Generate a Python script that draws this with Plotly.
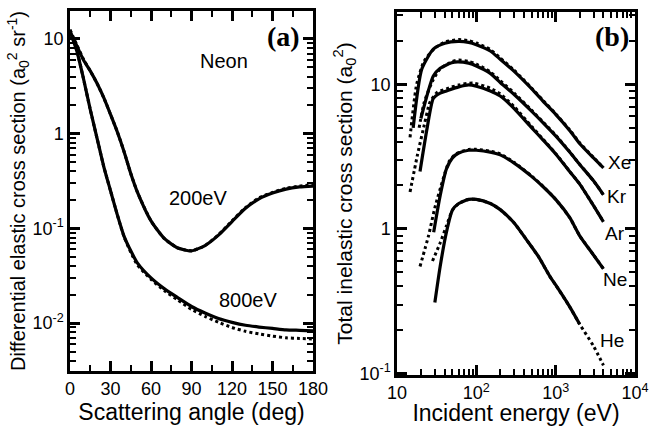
import plotly.graph_objects as go

# ---------------- Panel (a): Neon differential elastic cross section ----------------
angle = [0, 5, 10, 15, 20, 25, 30, 35, 40, 45, 50, 60, 70, 80, 90, 100, 110, 120, 130, 140, 150, 160, 170, 180]
dcs_200_solid = [12.0, 8.5, 6.0, 4.6, 3.4, 2.4, 1.6, 1.05, 0.65, 0.38, 0.24, 0.12, 0.078, 0.062, 0.058, 0.066, 0.085,
                 0.118, 0.163, 0.205, 0.236, 0.26, 0.274, 0.28]
dcs_200_dash = [12.5, 8.7, 6.1, 4.6, 3.4, 2.4, 1.6, 1.05, 0.65, 0.38, 0.24, 0.12, 0.078, 0.062, 0.058, 0.066, 0.086,
                0.12, 0.166, 0.21, 0.24, 0.265, 0.28, 0.29]
dcs_800_solid = [12.0, 7.5, 3.8, 1.8, 0.9, 0.45, 0.25, 0.14, 0.083, 0.058, 0.043, 0.030, 0.023, 0.0185, 0.0150, 0.0128,
                 0.0112, 0.0102, 0.0095, 0.0091, 0.0088, 0.0085, 0.0084, 0.0083]
dcs_800_dash = [12.5, 7.6, 3.8, 1.8, 0.9, 0.45, 0.25, 0.14, 0.082, 0.056, 0.041, 0.029, 0.022, 0.0175, 0.0140, 0.0118,
                0.0102, 0.0090, 0.0082, 0.0077, 0.0073, 0.0070, 0.0069, 0.0068]

# ---------------- Panel (b): total inelastic cross sections ----------------
xe_E = [16, 20.5, 28.7, 40, 59, 80, 100, 150, 200, 300, 500, 700, 1000, 1500, 2000, 3000, 4000]
xe_solid = [5.0, 12.7, 17.5, 19.2, 19.8, 19.5, 18.8, 17.0, 14.9, 12.3, 9.3, 7.6, 6.2, 4.8, 3.9, 3.1, 2.64]
xe_dE = [14.6, 17.7, 22, 30, 40, 60, 80, 100, 150, 200, 300, 500, 700, 1000, 1500, 2000, 3000, 4000]
xe_dash = [4.3, 10.0, 14.5, 17.8, 19.6, 20.4, 20.0, 19.3, 17.4, 15.2, 12.5, 9.4, 7.7, 6.25, 4.85, 3.95, 3.12, 2.64]

kr_E = [20, 28.7, 35, 48.8, 58, 80, 100, 150, 200, 300, 500, 700, 1000, 1500, 2000, 3000, 4000]
kr_solid = [5.8, 11.4, 12.9, 14.1, 14.3, 14.0, 13.4, 11.9, 10.3, 8.5, 6.5, 5.4, 4.4, 3.4, 2.8, 2.15, 1.72]
kr_dE = [19, 22, 28, 35, 50, 60, 80, 100, 150, 200, 300, 500, 700, 1000, 1500, 2000, 3000, 4000]
kr_dash = [5.0, 7.5, 10.5, 12.8, 14.4, 14.7, 14.4, 13.8, 12.2, 10.6, 8.7, 6.6, 5.45, 4.45, 3.42, 2.8, 2.15, 1.72]

ar_E = [19.5, 24, 28.7, 35, 42, 60, 80, 100, 150, 200, 300, 500, 700, 1000, 1500, 2000, 3000, 4000]
ar_solid = [2.5, 5.0, 8.0, 8.7, 9.0, 9.6, 9.9, 9.7, 9.0, 8.3, 6.8, 5.0, 4.1, 3.3, 2.5, 2.05, 1.45, 1.12]
ar_dE = [14.6, 18, 22, 26, 32, 42, 60, 90, 150, 200, 300, 500, 700, 1000, 1500, 2000, 3000, 4000]
ar_dash = [1.8, 3.2, 5.2, 7.5, 8.8, 9.3, 9.9, 10.2, 9.4, 8.6, 7.0, 5.1, 4.15, 3.32, 2.5, 2.05, 1.45, 1.12]

ne_E = [29, 35, 42, 50, 60, 80, 100, 150, 200, 300, 500, 700, 1000, 1500, 2000, 3000, 4000]
ne_solid = [0.95, 1.7, 2.6, 3.1, 3.35, 3.5, 3.5, 3.4, 3.25, 2.85, 2.3, 1.95, 1.6, 1.2, 0.9, 0.66, 0.53]
ne_dE = [19.5, 25, 30, 38, 45, 55, 80, 100, 150, 200, 300, 500, 700, 1000, 1500, 2000, 3000, 4000]
ne_dash = [0.55, 0.9, 1.4, 2.2, 2.9, 3.3, 3.55, 3.55, 3.45, 3.3, 2.88, 2.32, 1.96, 1.6, 1.2, 0.9, 0.66, 0.53]

he_E = [30, 35, 42, 50, 60, 80, 100, 150, 200, 300, 430, 600, 845, 1000, 1500, 2000]
he_solid = [0.31, 0.55, 0.95, 1.35, 1.5, 1.6, 1.6, 1.5, 1.36, 1.1, 0.84, 0.65, 0.47, 0.41, 0.29, 0.22]
he_dE = [28, 35, 42, 50, 60, 80, 100, 150, 200, 300, 430, 600, 845, 1000, 1500, 2000, 3000, 4000]
he_dash = [0.6, 0.8, 1.05, 1.35, 1.5, 1.6, 1.6, 1.5, 1.36, 1.1, 0.84, 0.65, 0.47, 0.41, 0.29, 0.22, 0.155, 0.114]

# tick positions
angle_ticks = [0, 30, 60, 90, 120, 150, 180]
dcs_ticks = [0.01, 0.1, 1, 10]
dcs_ticktext = ["10<sup>-2</sup>", "10<sup>-1</sup>", "1", "10"]
energy_ticks = [10, 100, 1000, 10000]
energy_ticktext = ["10", "10<sup>2</sup>", "10<sup>3</sup>", "10<sup>4</sup>"]
sigma_ticks = [0.1, 1, 10]
sigma_ticktext = ["10<sup>-1</sup>", "1", "10"]

FONT = "Liberation Sans, Arial, sans-serif"
W, H = 657, 426
ML, MR, MT, MB = 70, 22, 11, 51          # plot area: x 70..635, y 11..375
PW, PH = W - ML - MR, H - MT - MB
ANG_RANGE = [0, 180]
DCS_RANGE = [-2.505, 1.295]
E_RANGE = [1, 4]
SIG_RANGE = [-1.01, 1.5]

fig = go.Figure()

def solid(x, y, xa, ya):
    fig.add_trace(go.Scatter(x=x, y=y, mode="lines", line=dict(color="black", width=3.2, shape="spline", smoothing=0.6),
                             xaxis=xa, yaxis=ya, showlegend=False, hoverinfo="skip"))

def dotted(x, y, xa, ya):
    fig.add_trace(go.Scatter(x=x, y=y, mode="lines", line=dict(color="black", width=3, dash="dot", shape="spline", smoothing=0.6),
                             xaxis=xa, yaxis=ya, showlegend=False, hoverinfo="skip"))

solid(angle, dcs_200_solid, "x", "y")
dotted(angle, dcs_200_dash, "x", "y")
solid(angle, dcs_800_solid, "x", "y")
dotted(angle, dcs_800_dash, "x", "y")

for e, s, de, d in [(xe_E, xe_solid, xe_dE, xe_dash), (kr_E, kr_solid, kr_dE, kr_dash),
                    (ar_E, ar_solid, ar_dE, ar_dash), (ne_E, ne_solid, ne_dE, ne_dash),
                    (he_E, he_solid, he_dE, he_dash)]:
    solid(e, s, "x2", "y2")
    dotted(de, d, "x2", "y2")

axis_common = dict(showline=True, linecolor="black", linewidth=2.5, mirror="allticks", ticks="inside",
                   tickcolor="black", tickwidth=2.5, ticklen=10,
                   tickfont=dict(family=FONT, size=18, color="black"))
minor_lin = dict(ticks="inside", ticklen=6, tickwidth=2, tickcolor="black", dtick=15, showgrid=False)
minor_log = dict(ticks="inside", ticklen=6, tickwidth=2, tickcolor="black", dtick="D1", showgrid=False)

fig.update_layout(
    template="none",
    width=W, height=H, margin=dict(l=ML, r=MR, t=MT, b=MB),
    paper_bgcolor="white", plot_bgcolor="white", showlegend=False,
    xaxis=dict(domain=[0, (313 - ML) / PW], anchor="y", range=ANG_RANGE, tickvals=angle_ticks,
               minor=minor_lin, showgrid=False, zeroline=False,
               title=dict(text="Scattering angle (deg)", standoff=2, font=dict(family=FONT, size=23, color="black")),
               **axis_common),
    yaxis=dict(domain=[(H - MB - 371) / PH, 1], anchor="x", type="log", range=DCS_RANGE,
               tickvals=dcs_ticks, ticktext=dcs_ticktext, minor=minor_log, showgrid=False, zeroline=False,
               title=dict(text="Differential elastic cross section (a<sub>0</sub><sup>2</sup> sr<sup>-1</sup>)", standoff=2,
                          font=dict(family=FONT, size=20, color="black")),
               **axis_common),
    xaxis2=dict(domain=[(397 - ML) / PW, 1], anchor="y2", type="log", range=E_RANGE,
                tickvals=energy_ticks, ticktext=energy_ticktext, minor=minor_log, showgrid=False, zeroline=False,
                title=dict(text="Incident energy (eV)", standoff=2, font=dict(family=FONT, size=23, color="black")),
                **axis_common),
    yaxis2=dict(domain=[0, (H - MB - 12) / PH], anchor="x2", type="log", range=SIG_RANGE,
                tickvals=sigma_ticks, ticktext=sigma_ticktext, minor=minor_log, showgrid=False, zeroline=False,
                title=dict(text="Total inelastic cross section (a<sub>0</sub><sup>2</sup>)", standoff=2,
                           font=dict(family=FONT, size=21, color="black")),
                **axis_common),
)

labels = [
    ("Neon", 224, 61, 20, FONT, False),
    ("200eV", 198, 198, 20, FONT, False),
    ("800eV", 248, 300, 20, FONT, False),
    ("(a)", 283, 37, 28, "Liberation Serif, Times New Roman, serif", True),
    ("(b)", 612, 37, 28, "Liberation Serif, Times New Roman, serif", True),
    ("Xe", 619, 162, 19, FONT, False),
    ("Kr", 617, 196, 19, FONT, False),
    ("Ar", 615, 233, 19, FONT, False),
    ("Ne", 615, 279, 19, FONT, False),
    ("He", 612, 340, 19, FONT, False),
]
for text, px, py, size, fam, bold in labels:
    fig.add_annotation(text=f"<b>{text}</b>" if bold else text,
                       x=(px - ML) / PW, y=(H - MB - py) / PH, xref="paper", yref="paper",
                       showarrow=False, xanchor="center", yanchor="middle",
                       font=dict(family=fam, size=size, color="black"))

fig.write_html("out.html")
